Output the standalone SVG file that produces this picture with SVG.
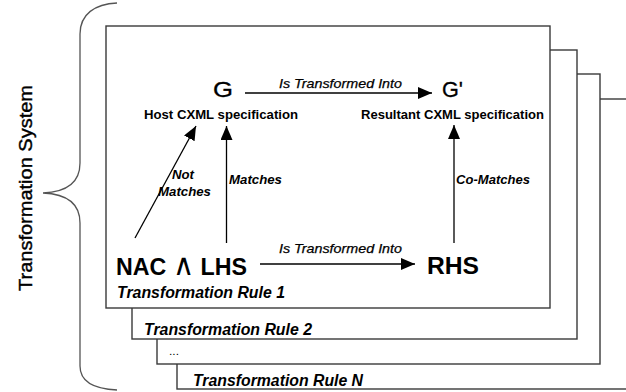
<svg xmlns="http://www.w3.org/2000/svg" width="626" height="392" viewBox="0 0 626 392">
<style>
.card{fill:#fff;stroke:#3a3a3a;stroke-width:1.4}
.t{font-family:"Liberation Sans",Arial,sans-serif;fill:#000}
.big{font-size:22px}
.heavy{font-size:24px;font-weight:bold}
.spec{font-size:13px;font-weight:bold}
.lab{font-size:13px;font-style:italic;font-weight:bold}
.into{font-size:13px;font-style:italic;stroke:#000;stroke-width:0.25}
.rule{font-size:16px;font-style:italic;font-weight:bold}
.conn{stroke:#000;stroke-width:1.3;fill:none}
</style>
<defs>
<marker id="ah" markerUnits="userSpaceOnUse" markerWidth="15" markerHeight="13" refX="14" refY="6" orient="auto">
<path d="M0,0 L14,6 L0,12 z" fill="#000"/>
</marker>
</defs>
<rect width="626" height="392" fill="#fff"/>

<g id="system">
<path d="M117,3 C95,4 80,14 80,34 L80,163 C80,183 66,192 43,193 C66,194 80,203 80,223 L80,366 C80,382 95,389 117,390" fill="none" stroke="#555" stroke-width="1.3"/>
<text class="t" transform="translate(32,188) rotate(-90)" text-anchor="middle" font-size="19" stroke="#000" stroke-width="0.4" textLength="206" lengthAdjust="spacingAndGlyphs">Transformation System</text>
</g>

<g id="rule-n">
<rect class="card" x="177" y="99" width="460" height="290"/>
<text class="t rule" x="193" y="386" textLength="170" lengthAdjust="spacingAndGlyphs">Transformation Rule N</text>
</g>
<g id="rule-dots">
<rect class="card" x="157" y="74" width="443" height="290"/>
<text class="t" x="169" y="355" font-size="10" textLength="10" lengthAdjust="spacingAndGlyphs">...</text>
</g>
<g id="rule-2">
<rect class="card" x="132" y="50" width="445" height="289"/>
<text class="t rule" x="144" y="335" textLength="168" lengthAdjust="spacingAndGlyphs">Transformation Rule 2</text>
</g>
<g id="rule-1">
<rect class="card" x="106" y="26" width="444" height="282"/>
<text class="t rule" x="117" y="298" textLength="168" lengthAdjust="spacingAndGlyphs">Transformation Rule 1</text>
</g>

<g id="host">
<text class="t big" x="213" y="97" stroke="#000" stroke-width="0.3" textLength="20" lengthAdjust="spacingAndGlyphs">G</text>
<text class="t spec" x="144" y="119" textLength="154" lengthAdjust="spacingAndGlyphs">Host CXML specification</text>
</g>
<g id="result">
<text class="t big" x="442" y="97" stroke="#000" stroke-width="0.3" textLength="21" lengthAdjust="spacingAndGlyphs">G'</text>
<text class="t spec" x="361" y="119" textLength="183" lengthAdjust="spacingAndGlyphs">Resultant CXML specification</text>
</g>
<g id="lhs">
<text class="t heavy" x="116" y="275" textLength="131" lengthAdjust="spacingAndGlyphs">NAC <tspan font-weight="normal" font-size="30">∧</tspan> LHS</text>
</g>
<g id="rhs">
<text class="t heavy" x="427" y="274" textLength="52" lengthAdjust="spacingAndGlyphs">RHS</text>
</g>

<g id="connectors">
<line class="conn" x1="245" y1="93" x2="432" y2="93" marker-end="url(#ah)"/>
<text class="t into" x="279" y="88" textLength="123" lengthAdjust="spacingAndGlyphs">Is Transformed Into</text>
<line class="conn" x1="260" y1="264" x2="415" y2="264" marker-end="url(#ah)"/>
<text class="t into" x="279" y="253" textLength="123" lengthAdjust="spacingAndGlyphs">Is Transformed Into</text>
<line class="conn" x1="226.5" y1="243" x2="226.5" y2="126" marker-end="url(#ah)"/>
<text class="t lab" x="229" y="184" textLength="53" lengthAdjust="spacingAndGlyphs">Matches</text>
<line class="conn" x1="135" y1="238" x2="196" y2="126" marker-end="url(#ah)"/>
<text class="t lab" x="172" y="179" textLength="22" lengthAdjust="spacingAndGlyphs">Not</text>
<text class="t lab" x="158" y="196" textLength="53" lengthAdjust="spacingAndGlyphs">Matches</text>
<line class="conn" x1="454" y1="243" x2="454" y2="125" marker-end="url(#ah)"/>
<text class="t lab" x="456" y="184" textLength="74" lengthAdjust="spacingAndGlyphs">Co-Matches</text>
</g>
</svg>
